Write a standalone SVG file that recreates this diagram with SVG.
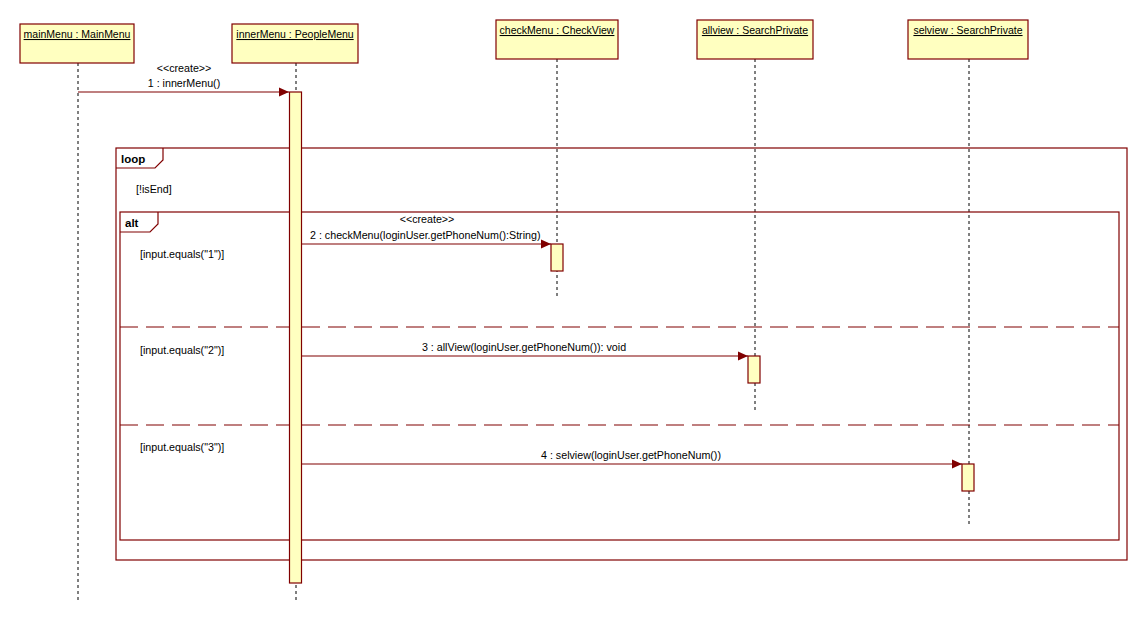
<svg xmlns="http://www.w3.org/2000/svg" width="1147" height="624" viewBox="0 0 1147 624">
<defs>
<style>
.box{fill:#ffffc0;stroke:#800000;stroke-width:1.2}
.act{fill:#ffffc0;stroke:#800000;stroke-width:1.2}
.frame{fill:none;stroke:#800000;stroke-width:1.2}
.sep{fill:none;stroke:#800000;stroke-width:1.2;stroke-dasharray:18 8}
.life{fill:none;stroke:#000;stroke-width:1;stroke-dasharray:3 3}
.msg{fill:none;stroke:#800000;stroke-width:1.2;marker-end:url(#arr)}
text{font-family:"Liberation Sans",Arial,sans-serif;font-size:10.7px;fill:#000}
.title{text-decoration:underline;text-anchor:middle;font-size:10.5px}
.mid{text-anchor:middle}
.bold{font-weight:bold;font-size:11.5px}
</style>
<marker id="arr" markerUnits="userSpaceOnUse" markerWidth="11" markerHeight="10" refX="10" refY="5" orient="auto">
<path d="M0,0.5 L10,5 L0,9.5 z" fill="#800000"/>
</marker>
</defs>
<rect width="1147" height="624" fill="#fff"/>

<g id="lifelines">
<line class="life" x1="78" y1="63" x2="78" y2="601"/>
<line class="life" x1="296" y1="63" x2="296" y2="601"/>
<line class="life" x1="557" y1="59" x2="557" y2="297"/>
<line class="life" x1="755" y1="59" x2="755" y2="410"/>
<line class="life" x1="969" y1="59" x2="969" y2="524"/>
</g>

<g id="loop">
<rect class="frame" x="116" y="148" width="1011" height="412"/>
<path class="frame" d="M116,168 L155,168 L163,160 L163,148"/>
<text class="bold" x="121" y="163">loop</text>
<text x="136" y="193">[!isEnd]</text>
</g>

<g id="alt">
<rect class="frame" x="120" y="212" width="999" height="328"/>
<path class="frame" d="M120,232 L150,232 L158,224 L158,212"/>
<text class="bold" x="125" y="227">alt</text>
<line class="sep" x1="120" y1="327" x2="1119" y2="327"/>
<line class="sep" x1="120" y1="425" x2="1119" y2="425"/>
<text x="140" y="258">[input.equals("1")]</text>
<text x="140" y="354">[input.equals("2")]</text>
<text x="140" y="451">[input.equals("3")]</text>
</g>

<g id="mainMenu">
<rect class="box" x="20" y="24" width="114" height="39"/>
<text class="title" x="77" y="38">mainMenu : MainMenu</text>
</g>
<g id="innerMenu">
<rect class="box" x="232" y="24" width="126" height="39"/>
<text class="title" x="295" y="38">innerMenu : PeopleMenu</text>
<rect class="act" x="289.5" y="92" width="12" height="491"/>
</g>
<g id="checkMenu">
<rect class="box" x="496" y="20" width="122" height="39"/>
<text class="title" x="557" y="34">checkMenu : CheckView</text>
<rect class="act" x="551" y="244" width="12" height="27"/>
</g>
<g id="allview">
<rect class="box" x="697" y="20" width="116" height="39"/>
<text class="title" x="755" y="34">allview : SearchPrivate</text>
<rect class="act" x="748" y="356" width="12" height="27"/>
</g>
<g id="selview">
<rect class="box" x="908" y="20" width="120" height="39"/>
<text class="title" x="968" y="34">selview : SearchPrivate</text>
<rect class="act" x="962" y="464" width="12" height="27"/>
</g>

<g id="connectors">
<line class="msg" x1="78" y1="92" x2="289" y2="92"/>
<text class="mid" x="184" y="72">&lt;&lt;create&gt;&gt;</text>
<text class="mid" x="184" y="87">1 : innerMenu()</text>

<line class="msg" x1="302" y1="244" x2="551" y2="244"/>
<text class="mid" x="427" y="223">&lt;&lt;create&gt;&gt;</text>
<text x="310" y="239">2 : checkMenu(loginUser.getPhoneNum():String)</text>

<line class="msg" x1="302" y1="356" x2="748" y2="356"/>
<text class="mid" x="524" y="351">3 : allView(loginUser.getPhoneNum()): void</text>

<line class="msg" x1="302" y1="464" x2="962" y2="464"/>
<text class="mid" x="631" y="459">4 : selview(loginUser.getPhoneNum())</text>
</g>
</svg>
